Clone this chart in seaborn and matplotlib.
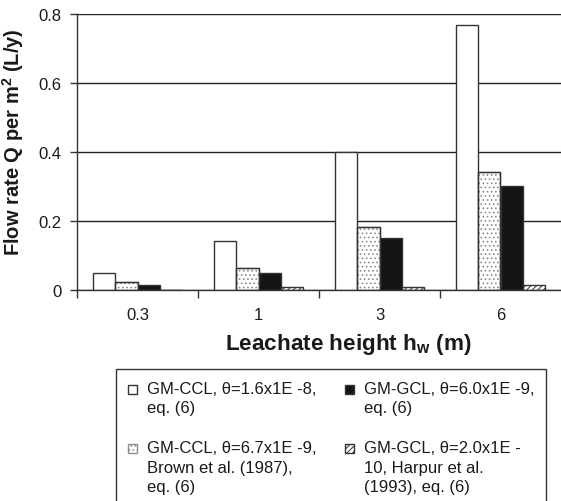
import matplotlib
matplotlib.use("Agg")
import matplotlib.pyplot as plt
from matplotlib.patches import Rectangle
from matplotlib.legend_handler import HandlerPatch
import seaborn as sns
import pandas as pd

# Leachate heights (m) on the x axis
heights = ["0.3", "1", "3", "6"]

# Series labels (legend text)
series = [
    "GM-CCL, θ=1.6x1E -8,\neq. (6)",
    "GM-CCL, θ=6.7x1E -9,\nBrown et al. (1987),\neq. (6)",
    "GM-GCL, θ=6.0x1E -9,\neq. (6)",
    "GM-GCL, θ=2.0x1E -\n10, Harpur et al.\n(1993), eq. (6)",
]

# Flow rate Q per m2 (L/y) for each series
q_ccl_16 = [0.048, 0.141, 0.399, 0.769]
q_ccl_67 = [0.022, 0.064, 0.182, 0.341]
q_gcl_60 = [0.015, 0.049, 0.150, 0.301]
q_gcl_20 = [0.0008, 0.008, 0.008, 0.015]

y_ticks = [0, 0.2, 0.4, 0.6, 0.8]
y_ticklabels = ["0", "0.2", "0.4", "0.6", "0.8"]

values = [q_ccl_16, q_ccl_67, q_gcl_60, q_gcl_20]
df = pd.DataFrame({
    "height": heights * len(series),
    "series": [s for s in series for _ in heights],
    "Q": [v for vals in values for v in vals],
})

sns.set_style("white")
plt.rcParams["font.family"] = ["Liberation Sans", "DejaVu Sans"]
plt.rcParams["mathtext.fontset"] = "custom"
plt.rcParams["mathtext.rm"] = "Liberation Sans"
plt.rcParams["mathtext.bf"] = "Liberation Sans:bold"
plt.rcParams["hatch.linewidth"] = 0.7

ink = "#1a1a1a"
edge = "#333333"
dots = "#8c8c8c"

fig = plt.figure(figsize=(5.61, 5.02), dpi=100)
ax = fig.add_axes([77 / 561, 211 / 502, 484 / 561, 276 / 502])

sns.barplot(
    data=df, x="height", y="Q", hue="series",
    order=heights, hue_order=series,
    palette=["white", "white", "#141414", "white"],
    width=0.74, edgecolor=edge, linewidth=1.0,
    saturation=1, legend=False, ax=ax,
)

# fill patterns: plain, grey dots, solid, diagonal lines
dotted = ax.containers[1]
for bar in dotted:
    bar.set_hatch("....")
    bar.set_edgecolor(dots)
    # dark outline over the grey-dotted fill
    ax.add_patch(Rectangle(bar.get_xy(), bar.get_width(), bar.get_height(),
                           fill=False, edgecolor=edge, linewidth=1.0, zorder=bar.get_zorder()))
for bar in ax.containers[3]:
    bar.set_hatch("//////")
    bar.set_edgecolor(edge)

ax.set_xlim(-0.5, 3.5)
ax.set_ylim(0, 0.8)
ax.set_yticks(y_ticks)
ax.set_yticklabels(y_ticklabels)
ax.yaxis.grid(True, color="#222222", linewidth=1.0)
ax.set_axisbelow(True)

for side in ["top", "right"]:
    ax.spines[side].set_visible(False)
for side in ["left", "bottom"]:
    ax.spines[side].set_color(edge)
    ax.spines[side].set_linewidth(1.0)

ax.set_xticks([-0.5, 0.5, 1.5, 2.5], minor=True)
ax.tick_params(axis="x", which="major", length=0, pad=12, labelsize=12, labelcolor=ink)
ax.tick_params(axis="x", which="minor", bottom=True, length=6, width=1, color=edge, direction="out")
ax.tick_params(axis="y", left=True, length=5, width=1, color=edge, pad=6, labelsize=12, labelcolor=ink, direction="out")

ax.set_xlabel(r"Leachate height h$_\mathbf{w}$ (m)", fontsize=16.2, fontweight="bold", color=ink)
ax.xaxis.set_label_coords(0.56, -0.195)
ax.xaxis.label.set_va("center")
ax.set_ylabel(r"Flow rate Q per m$^\mathbf{2}$ (L/y)", fontsize=14.5, fontweight="bold", color=ink)
ax.yaxis.set_label_coords(-0.105, 0.54)


def small_square(legend, orig_handle, xdescent, ydescent, width, height, fontsize):
    # square key sitting level with the first line of a multi-line label
    s = 0.55 * fontsize
    return Rectangle((-xdescent, -ydescent), s, s)


handles = [cont[0] for cont in ax.containers]
leg = ax.legend(
    handles, series,
    loc="upper left", bbox_to_anchor=(116 / 561, 1 - 370 / 502),
    bbox_transform=fig.transFigure, ncol=2, fontsize=12,
    frameon=True, fancybox=False, framealpha=1, edgecolor=edge,
    handlelength=0.55, handleheight=0.85, handletextpad=0.6,
    columnspacing=1.7, labelspacing=1.5, borderpad=0.7, borderaxespad=0,
    handler_map={Rectangle: HandlerPatch(patch_func=small_square)},
)
leg.get_frame().set_linewidth(1.0)
for t in leg.get_texts():
    t.set_color(ink)
    t.set_linespacing(1.37)
# align each key with the top of its label
for column in leg._legend_handle_box.get_children():
    for item in column.get_children():
        item.align = "top"

fig.savefig("out.png", dpi=100)
